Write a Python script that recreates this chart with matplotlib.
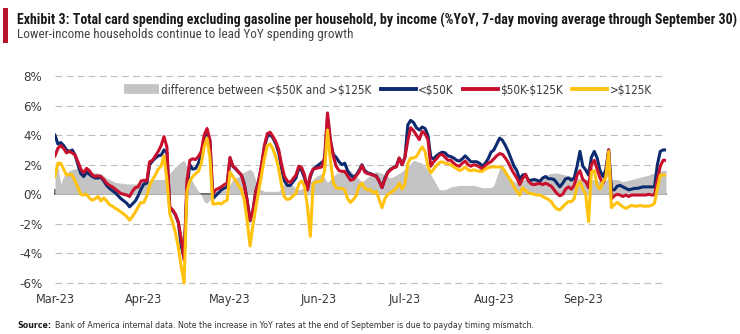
import matplotlib
matplotlib.use("Agg")
import matplotlib.pyplot as plt
from matplotlib.lines import Line2D
from matplotlib.patches import Rectangle
from matplotlib import font_manager
from matplotlib.font_manager import FontProperties
import pandas as pd

BAD = ["italic", "oblique", "light", "medium", "black", "thin", "mono", "serif", "semibold", "extrabold",
       "ultrabold", "demi"]
PREFS = ["liberationsansnarrow", "notosans-", "opensans", "dejavusans", "roboto", "lato", "inter"]


def condensed_files(bold, allow_extra):
    out = []
    for f in font_manager.fontManager.ttflist:
        fn = f.fname.lower().split("/")[-1]
        if not any(fn.startswith(p) for p in PREFS):
            continue
        if not ("narrow" in fn or "condensed" in fn):
            continue
        if any(b in fn for b in BAD):
            continue
        if not allow_extra and any(b in fn for b in ["semi", "extra", "ultra"]):
            continue
        if ("bold" in fn) != bold:
            continue
        out.append(f.fname)
    return sorted(set(out))


def pick_condensed(bold):
    files = condensed_files(bold, False)
    files.sort(key=lambda p: next((i for i, q in enumerate(PREFS) if p.lower().split("/")[-1].startswith(q)), 99))
    return files[0] if files else None


reg_file = pick_condensed(False)
bold_file = pick_condensed(True)
FP = FontProperties(fname=reg_file) if reg_file else FontProperties(family="Liberation Sans")
FPB = FontProperties(fname=bold_file) if bold_file else FontProperties(family="Liberation Sans", weight="bold")
if reg_file:
    font_manager.fontManager.addfont(reg_file)
plt.rcParams['font.family'] = [FP.get_name(), 'DejaVu Sans']

dates = pd.date_range("2023-03-01", "2023-09-30", freq="D")

lt50k = [
    4.0, 3.4, 3.5, 3.3, 3.0, 2.9, 3.0, 2.65, 2.0, 1.4, 1.2, 1.5, 1.35, 1.2, 1.1, 1.1, 1.15, 0.9, 0.6, 0.4,
    0.25, 0.1, -0.1, -0.3, -0.45, -0.6, -0.85, -0.65, -0.45, -0.1, 0.35, 0.7, 0.75, 2.0, 2.25, 2.45, 2.6,
    2.65, 3.0, 2.8, -0.9, -1.1, -1.4, -1.9, -3.5, -4.3, 0.4, 2.0, 1.7, 1.75, 2.1, 2.7, 3.8, 4.3, 3.6, -0.3,
    -0.1, 0.1, 0.3, 0.4, 0.5, 2.4, 1.9, 1.7, 1.5, 1.3, 0.7, -0.4, -1.8, -1.1, 0.2, 0.9,
    1.9, 3.2, 3.9, 4.05, 3.8, 3.4, 2.8, 1.7, 0.9, 0.6, 0.6, 0.85, 1.1, 1.8, 1.6, 1.1, 0.3, 1.2, 1.7, 1.85,
    2.0, 2.15, 2.3, 5.2, 3.6, 2.7, 2.5, 2.2, 2.0, 2.1, 1.6, 1.3, 1.15, 1.3,
    1.6, 2.0, 1.6, 1.45, 1.4, 1.3, 1.25, 0.9, 0.45, 1.1, 1.5, 1.7, 1.8, 1.9, 2.45, 2.0, 2.5, 4.7, 5.0, 4.85,
    4.5, 4.35, 4.55, 4.45, 4.0, 2.5, 2.4, 2.6, 2.75, 2.85, 2.8, 2.6, 2.55, 2.45, 2.3, 2.25,
    2.4, 2.6, 2.4, 2.2, 2.2, 2.2, 2.1, 1.9, 2.1, 2.4, 2.85, 3.0, 3.4, 3.8, 3.65, 3.3, 2.9, 2.4, 1.9, 1.6,
    1.0, 1.3, 1.35, 0.95, 0.95, 1.0, 0.95, 0.85, 1.1, 1.2, 1.05, 1.05, 1.0, 0.75, 0.5,
    0.75, 1.05, 1.1, 0.95, 1.1, 1.9, 2.9, 1.9, 1.65, 1.3, 2.5, 2.9, 2.45, 1.6, 1.2, 1.65, 3.0, 0.3, 0.3, 0.55,
    0.6, 0.5, 0.4, 0.3, 0.35, 0.4, 0.4, 0.45, 0.5, 0.5, 0.5, 0.5, 0.5, 2.0, 2.9, 3.0, 3.0,
]

mid = [
    2.6, 3.1, 3.3, 3.1, 2.8, 2.9, 2.8, 2.65, 2.2, 1.7, 1.45, 1.75, 1.6, 1.3, 1.2, 1.25, 1.2, 1.0, 0.75, 0.6,
    0.5, 0.35, 0.2, 0.05, 0.0, -0.05, -0.15, 0.2, 0.45, 0.5, 0.9, 0.95, 0.9, 2.2, 2.3, 2.6, 2.9,
    3.3, 3.9, 3.2, -0.85, -1.05, -1.35, -1.9, -3.0, -4.45, 0.9, 2.3, 2.4, 2.35, 2.55, 2.9, 4.0, 4.45, 3.7, 0.0,
    0.3, 0.4, 0.5, 0.65, 0.75, 2.5, 1.9, 1.75, 1.5, 1.3, 0.6, -0.5, -1.75, -1.1, 0.2, 0.9,
    2.0, 3.3, 4.1, 4.2, 3.9, 3.55, 3.0, 2.0, 1.2, 0.9, 0.8, 1.05, 1.3, 1.9, 1.8, 1.3, 0.3, 1.3, 1.7, 1.75,
    1.8, 1.85, 2.5, 5.5, 3.7, 2.6, 1.9, 1.6, 1.55, 1.55, 1.25, 0.95, 1.0, 1.25,
    1.5, 1.95, 1.5, 1.4, 1.35, 1.3, 1.2, 0.9, 0.45, 1.0, 1.45, 1.65, 1.8, 1.85, 2.45, 2.0, 2.5, 3.65, 4.5, 4.3,
    4.0, 3.7, 4.25, 4.1, 3.7, 1.9, 2.2, 2.4, 2.65, 2.7, 2.5, 2.3, 2.3, 2.1, 1.95, 1.9,
    2.1, 2.25, 2.0, 1.9, 2.0, 1.95, 1.85, 1.7, 1.95, 2.1, 2.2, 2.4, 2.6, 2.75, 2.7, 2.45, 2.15, 1.75, 1.4, 1.1,
    0.65, 1.05, 1.35, 0.9, 0.7, 0.65, 0.7, 0.75, 0.65, 0.75, 0.65, 0.55, 0.3, 0.05, -0.1,
    0.0, 0.35, 0.5, 0.35, 0.6, 1.3, 1.6, 1.0, 0.85, 0.45, 2.0, 2.3, 1.7, 1.1, 0.75, 1.2, 3.0, -0.3, -0.1, 0.0,
    -0.05, -0.15, -0.05, -0.15, -0.05, -0.05, -0.05, -0.05, -0.05, -0.05, 0.0, -0.05, -0.05, 1.0, 1.9, 2.3, 2.3,
]

gt125k = [
    1.2, 2.1, 2.1, 1.7, 1.3, 1.35, 1.3, 0.9, 0.45, 0.0, -0.05, 0.0, -0.25, -0.4, -0.3, -0.15, -0.45, -0.25, -0.45, -0.7,
    -0.8, -0.95, -1.05, -1.2, -1.35, -1.5, -1.75, -1.5, -1.2, -0.85, -0.55, -0.55, -0.1, 0.6, 1.0, 1.3, 1.7,
    1.9, 2.6, 1.0, -1.3, -1.9, -2.6, -3.6, -4.9, -6.0, 0.2, 0.9, 1.2, 1.4, 1.55, 2.1, 3.2, 3.8, 2.5, -0.65,
    -0.65, -0.6, -0.65, -0.5, -0.4, 1.5, 1.2, 0.9, 0.6, 0.3, -0.4, -1.8, -3.5, -2.1, -0.9, 0.2,
    1.3, 2.4, 3.3, 3.4, 3.05, 2.5, 1.7, 0.6, -0.2, -0.35, -0.3, -0.1, 0.05, 0.7, 0.9, 0.5, -0.8, -2.85, 0.7, 0.85,
    0.85, 0.9, 1.6, 4.35, 2.3, 0.8, 0.45, 0.4, 0.4, 0.3, -0.3, -0.55, -0.35, -0.1,
    0.55, 0.75, 0.4, 0.3, 0.3, 0.1, 0.2, -0.35, -0.9, -0.3, 0.0, 0.1, 0.25, 0.4, 0.75, 0.35, 0.7, 2.1, 2.45, 2.45,
    2.55, 2.9, 3.2, 2.9, 1.9, 1.45, 1.7, 1.95, 2.15, 2.2, 2.1, 2.05, 2.0, 1.85, 1.75, 1.6,
    1.7, 1.85, 1.65, 1.6, 1.65, 1.6, 1.55, 1.55, 1.7, 1.8, 1.85, 1.85, 1.85, 1.85, 1.8, 1.5, 1.2, 0.9, 0.5, 0.2,
    -0.05, 0.45, 0.25, 0.1, 0.05, 0.0, -0.05, -0.05, -0.15, -0.25, -0.35, -0.5, -0.8, -1.0, -1.05,
    -0.85, -0.65, -0.5, -0.5, -0.3, 0.6, 0.85, 0.35, 0.0, -1.85, 1.5, 1.6, 0.6, 0.35, 0.85, 1.1, 2.9, -0.9, -0.7, -0.55,
    -0.7, -0.85, -0.95, -0.85, -0.75, -0.8, -0.8, -0.75, -0.8, -0.8, -0.8, -0.75, -0.6, 0.4, 1.3, 1.3, 1.3,
]

diff_dates = pd.to_datetime([
    "2023-03-01", "2023-03-02", "2023-03-03", "2023-03-04", "2023-03-06", "2023-03-09", "2023-03-11",
    "2023-03-14", "2023-03-17", "2023-03-19", "2023-03-22", "2023-03-26", "2023-03-29", "2023-04-01",
    "2023-04-04", "2023-04-08", "2023-04-10", "2023-04-12", "2023-04-14", "2023-04-15", "2023-04-16",
    "2023-04-17", "2023-04-19", "2023-04-21", "2023-04-22", "2023-04-23", "2023-04-25", "2023-04-26",
    "2023-04-30", "2023-05-02", "2023-05-04", "2023-05-06", "2023-05-08", "2023-05-09", "2023-05-11",
    "2023-05-13", "2023-05-18", "2023-05-20", "2023-05-22", "2023-05-25", "2023-05-28", "2023-05-29",
    "2023-05-31", "2023-06-02", "2023-06-04", "2023-06-07", "2023-06-10", "2023-06-12", "2023-06-14",
    "2023-06-16", "2023-06-19", "2023-06-21", "2023-06-23", "2023-06-26", "2023-06-28", "2023-06-30",
    "2023-07-02", "2023-07-04", "2023-07-07", "2023-07-09", "2023-07-11", "2023-07-13", "2023-07-15",
    "2023-07-17", "2023-07-20", "2023-07-25", "2023-07-28", "2023-07-31", "2023-08-01", "2023-08-02",
    "2023-08-03", "2023-08-04", "2023-08-05", "2023-08-07", "2023-08-09", "2023-08-12", "2023-08-15",
    "2023-08-17", "2023-08-19", "2023-08-22", "2023-08-24", "2023-08-26", "2023-08-29", "2023-09-01",
    "2023-09-04", "2023-09-07", "2023-09-10", "2023-09-13", "2023-09-15", "2023-09-18", "2023-09-21",
    "2023-09-24", "2023-09-27", "2023-09-30",
])
diff_values = [
    1.0, 1.9, 0.7, 1.2, 1.6, 1.8, 1.6,
    1.5, 1.4, 1.1, 0.8, 0.7, 0.7, 0.9,
    1.0, 1.0, 1.4, 1.85, 2.2, 2.3, 1.85,
    1.2, 0.5, -0.05, -0.5, -0.6, -0.15, 0.2,
    0.3, 1.0, 1.2, 1.5, 1.7, 1.5, 0.4,
    0.2, 0.2, 0.8, 0.7, 0.3, 0.5, 0.85,
    1.2, 1.4, 0.8, 1.4, 1.55, 1.6, 1.2,
    0.85, 1.3, 1.55, 1.4, 1.1, 1.3, 1.55,
    1.9, 2.3, 2.1, 1.65, 1.0, 0.3, 0.3,
    0.5, 0.6, 0.6, 0.45, 0.45, 0.6, 1.2,
    1.75, 1.85, 1.65, 1.0, 0.75, 1.0, 1.0,
    1.1, 1.3, 1.45, 1.4, 1.3, 1.15, 1.0,
    1.0, 0.9, 1.0, 1.0, 0.85, 1.0, 1.15,
    1.3, 1.55, 1.65,
]

yticks = [-6, -4, -2, 0, 2, 4, 6, 8]
ytick_labels = ["-6%", "-4%", "-2%", "0%", "2%", "4%", "6%", "8%"]
month_starts = pd.date_range("2023-03-01", "2023-09-01", freq="MS")
month_labels = [d.strftime("%b-%y") for d in month_starts]
legend_labels = ["difference between <\\$50K and >\\$125K", "<\\$50K", "\\$50K-\\$125K", ">\\$125K"]
title = "Exhibit 3: Total card spending excluding gasoline per household, by income (%YoY, 7-day moving average through September 30)"
subtitle = "Lower-income households continue to lead YoY spending growth"
source_rest = "Bank of America internal data. Note the increase in YoY rates at the end of September is due to payday timing mismatch."

C_BLUE = "#0B2A6F"
C_RED = "#C8102E"
C_YEL = "#FFC20E"
C_GREY = "#C4C4C4"
C_TXT = "#3A3A3A"

W, H = 740, 334
fig = plt.figure(figsize=(W / 100, H / 100), dpi=100)
renderer = fig.canvas.get_renderer()


def fit(txt, target_px):
    w = txt.get_window_extent(renderer).width
    txt.set_fontsize(txt.get_fontsize() * target_px / w)


def best_face(text, bold, target_px, want_size, fallback):
    best, best_err = fallback, None
    for path in condensed_files(bold, True):
        fp = FontProperties(fname=path, size=10)
        t = fig.text(0, 0, text, fontproperties=fp)
        w = t.get_window_extent(renderer).width
        t.remove()
        s = 10 * target_px / w
        err = abs(s - want_size)
        if best_err is None or err < best_err:
            best, best_err = FontProperties(fname=path), err
    return best


ylo, yhi = -6.3, 8.3
ax_top_px = 76 - 0.3 * 14.79
ax_bot_px = 283 + 0.3 * 14.79
ax = fig.add_axes([55 / W, 1 - ax_bot_px / H, (666 - 55) / W, (ax_bot_px - ax_top_px) / H])
ax.set_ylim(ylo, yhi)
ax.set_xlim(dates[0], dates[-1])

for y in yticks:
    if y != 0:
        ax.axhline(y, color="#BDBDBD", lw=0.8, ls=(0, (6, 4)), zorder=0)

ax.fill_between(diff_dates, 0, diff_values, color=C_GREY, lw=0, zorder=1)
ax.plot(dates, lt50k, color=C_BLUE, lw=2.2, zorder=3, solid_joinstyle="round")
ax.plot(dates, mid, color=C_RED, lw=2.2, zorder=4, solid_joinstyle="round")
ax.plot(dates, gt125k, color=C_YEL, lw=2.2, zorder=5, solid_joinstyle="round")

for s in ax.spines.values():
    s.set_visible(False)
ax.set_yticks(yticks)
ylabs = ax.set_yticklabels(ytick_labels, fontproperties=FP, fontsize=11)
ax.tick_params(axis="y", length=0, pad=9, labelcolor=C_TXT)
ax.set_xticks(month_starts)
xlabs = ax.set_xticklabels(month_labels, fontproperties=FP, fontsize=10)
ax.tick_params(axis="x", length=0, pad=4, labelcolor=C_TXT)

fig.canvas.draw()
wx = xlabs[0].get_window_extent(renderer).width
xs = 10 * 39 / wx
for t in xlabs:
    t.set_fontsize(xs)
wy = ylabs[0].get_window_extent(renderer).width
ys = 11 * 23 / wy
for t in ylabs:
    t.set_fontsize(ys)

zero_loc = (0 - ylo) / (yhi - ylo)
sec = ax.secondary_xaxis(zero_loc)
sec.set_xticks(month_starts)
sec.set_xticklabels([])
sec.tick_params(axis="x", direction="in", length=3.5, width=1.2, color="#555555")
sec.spines["bottom"].set_color("#555555")
sec.spines["bottom"].set_linewidth(1.3)

handles = [
    Line2D([], [], color=C_GREY, lw=7, solid_capstyle="butt"),
    Line2D([], [], color=C_BLUE, lw=2.8),
    Line2D([], [], color=C_RED, lw=2.8),
    Line2D([], [], color=C_YEL, lw=2.8),
]


def make_legend(size):
    p = FP.copy()
    p.set_size(size)
    return fig.legend(handles, legend_labels, loc="center", bbox_to_anchor=(388 / W, 1 - 90 / H), ncol=4,
                      frameon=False, prop=p, handlelength=3.0, handletextpad=0.2,
                      columnspacing=0.8, labelcolor=C_TXT)


leg = make_legend(10)
fig.canvas.draw()
lw0 = leg.get_texts()[0].get_window_extent(renderer).width
leg.remove()
leg = make_legend(10 * 209 / lw0)

fig.add_artist(Rectangle((3 / W, 1 - 43 / H), 5 / W, 35 / H, transform=fig.transFigure,
                         color="#B5152B", lw=0))
FPT = best_face(title, True, 718, 9.2, FPB)
FPS = best_face(subtitle, False, 336, 9.2, FP)
t1 = fig.text(17 / W, 1 - 20.5 / H, title, fontproperties=FPT, fontsize=10, color="#1A1A1A",
              va="center", ha="left")
t2 = fig.text(17 / W, 1 - 34.5 / H, subtitle, fontproperties=FPS, fontsize=10, color="#444444",
              va="center", ha="left")
fit(t1, 718)
fit(t2, 336)

src = fig.text(17 / W, 1 - 326 / H, "Source:", fontproperties=FPB, fontsize=7, color="#1A1A1A",
               va="center", ha="left")
rest = fig.text(0, 1 - 326 / H, source_rest, fontproperties=FP, fontsize=7,
                color="#333333", va="center", ha="left")
fig.canvas.draw()
total = src.get_window_extent(renderer).width + 4 + rest.get_window_extent(renderer).width
k = 518 / total
src.set_fontsize(7 * k)
rest.set_fontsize(7 * k)
fig.canvas.draw()
bb = src.get_window_extent(renderer)
rest.set_x((bb.x1 + 4 * k) / W)

fig.savefig("out.png", dpi=100)
